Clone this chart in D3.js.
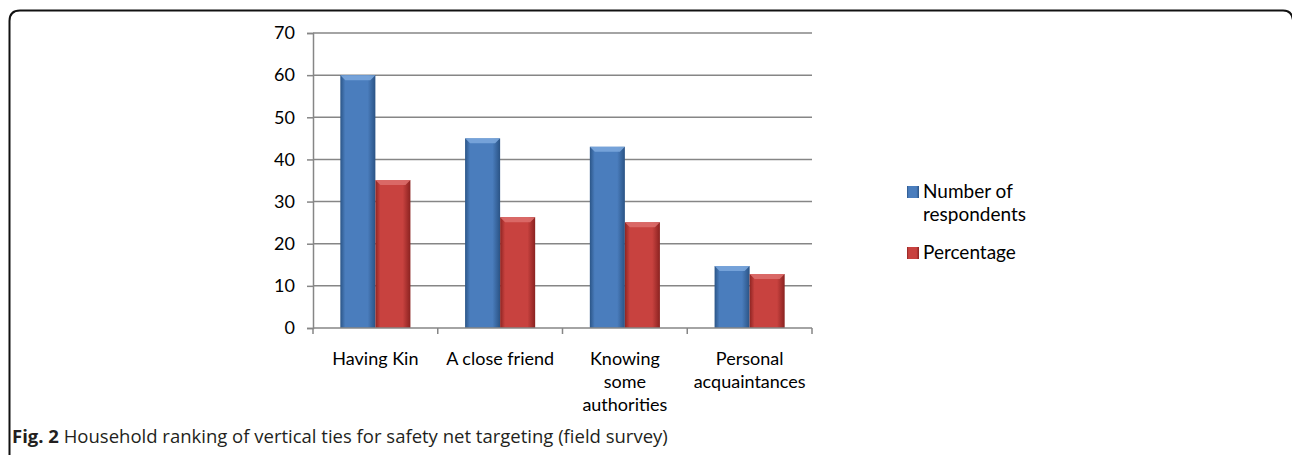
<!DOCTYPE html>
<html>
<head>
<meta charset="utf-8">
<script src="https://cdn.jsdelivr.net/npm/d3@7"></script>
<style>
  body { margin: 0; background: #fff; }
  svg { display: block; }
</style>
</head>
<body>
<svg class="chart"></svg>
<script>
const categories = ['Having Kin', 'A close friend', 'Knowing some authorities', 'Personal acquaintances'];
const categoryLines = [['Having Kin'], ['A close friend'], ['Knowing', 'some', 'authorities'], ['Personal', 'acquaintances']];
const seriesNames = ['Number of respondents', 'Percentage'];
const respondents = [60, 45, 43, 14.7];
const percentage = [35.1, 26.3, 25.1, 12.8];
const yTicks = [0, 10, 20, 30, 40, 50, 60, 70];

const svg = d3.select('.chart')
	.attr('width', 1292)
	.attr('height', 455);

const font = 'Lato, "Open Sans", sans-serif';

// frame
svg.append('path')
	.attr('d', 'M9.5,455 V21 Q9.5,10.5 20,10.5 H1283 Q1292,10.5 1293,20')
	.attr('fill', 'none')
	.attr('stroke', '#111')
	.attr('stroke-width', 2);

const xScale = d3.scaleBand()
	.domain(categories)
	.range([313, 812]);

const x1 = d3.scaleBand()
	.domain(seriesNames)
	.range([0, xScale.bandwidth()])
	.paddingOuter(0.78);

const yScale = d3.scaleLinear()
	.domain([0, 70])
	.range([328, 33]);

const colors = { 'Number of respondents': ['#2b5587', '#4a7dbd', '#2a5385'], 'Percentage': ['#8e2422', '#c8423f', '#8a2220'] };

const defs = svg.append('defs');
seriesNames.forEach((s, i) => {
	const gr = defs.append('linearGradient')
		.attr('id', 'grad' + i)
		.attr('x1', 0).attr('x2', 1).attr('y1', 0).attr('y2', 0);
	gr.append('stop').attr('offset', '0%').attr('stop-color', colors[s][0]);
	gr.append('stop').attr('offset', '14%').attr('stop-color', colors[s][1]);
	gr.append('stop').attr('offset', '78%').attr('stop-color', colors[s][1]);
	gr.append('stop').attr('offset', '100%').attr('stop-color', colors[s][2]);
});

// gridlines + y axis
const yAxis = d3.axisLeft(yScale)
	.tickValues(yTicks)
	.tickSize(6)
	.tickPadding(12);

const yAxisG = svg.append('g')
	.attr('transform', 'translate(313,0)')
	.call(yAxis);
yAxisG.select('.domain').attr('stroke', '#868686').attr('stroke-width', 1.5);
yAxisG.selectAll('.tick line').attr('stroke', '#868686').attr('stroke-width', 1.5);
yAxisG.selectAll('.tick text')
	.attr('font-family', font)
	.attr('font-size', 18)
	.attr('fill', '#000');

svg.append('g').selectAll('line')
	.data(yTicks.filter(d => d > 0))
	.enter()
	.append('line')
		.attr('x1', 313)
		.attr('x2', 812)
		.attr('y1', d => yScale(d))
		.attr('y2', d => yScale(d))
		.attr('stroke', '#868686')
		.attr('stroke-width', 1.5);

// bars
const rows = categories.map((c, i) => ({ cat: c, values: [respondents[i], percentage[i]] }));
const groups = svg.append('g').selectAll('g')
	.data(rows)
	.enter()
	.append('g')
		.attr('transform', d => `translate(${xScale(d.cat)},0)`);

const bars = groups.selectAll('g')
	.data(d => d.values.map((v, i) => ({ s: seriesNames[i], v, i })))
	.enter()
	.append('g');

bars.append('rect')
	.attr('x', d => x1(d.s))
	.attr('y', d => yScale(d.v))
	.attr('width', x1.bandwidth())
	.attr('height', d => yScale(0) - yScale(d.v))
	.attr('fill', d => `url(#grad${d.i})`);

// bevelled top
bars.append('path')
	.attr('d', d => {
		const x0 = x1(d.s), w = x1.bandwidth(), y0 = yScale(d.v);
		return `M${x0},${y0} H${x0 + w} L${x0 + w - 5},${y0 + 5} H${x0 + 5} Z`;
	})
	.attr('fill', d => d.i === 0 ? '#7aa6dc' : '#dc6d6a')
	.attr('opacity', 0.9);

// x axis
const xAxisG = svg.append('g')
	.attr('transform', 'translate(0,328)');
xAxisG.append('line')
	.attr('x1', 313).attr('x2', 812)
	.attr('stroke', '#868686').attr('stroke-width', 1.5);
xAxisG.selectAll('.xtick')
	.data(categories.concat(['end']))
	.enter()
	.append('line')
		.attr('x1', (d, i) => i < categories.length ? xScale(d) : xScale.range()[1])
		.attr('x2', (d, i) => i < categories.length ? xScale(d) : xScale.range()[1])
		.attr('y1', 0)
		.attr('y2', 6)
		.attr('stroke', '#868686').attr('stroke-width', 1.5);

const labels = xAxisG.selectAll('.xlabel')
	.data(categories)
	.enter()
	.append('text')
		.attr('text-anchor', 'middle')
		.attr('font-family', font)
		.attr('font-size', 18)
		.attr('fill', '#000');
labels.selectAll('tspan')
	.data((d, i) => categoryLines[i].map(t => ({ t, x: xScale(d) + xScale.bandwidth() / 2 })))
	.enter()
	.append('tspan')
		.attr('x', d => d.x)
		.attr('y', (d, i) => 37 + i * 23)
		.text(d => d.t);

// legend
const legendItems = [
	{ i: 0, lines: ['Number of', 'respondents'], y: 198 },
	{ i: 1, lines: ['Percentage'], y: 259 }
];
const lg = svg.append('g').selectAll('g')
	.data(legendItems)
	.enter()
	.append('g');
lg.append('rect')
	.attr('x', 907)
	.attr('y', d => d.y - 12)
	.attr('width', 12)
	.attr('height', 12)
	.attr('fill', d => `url(#grad${d.i})`);
lg.append('text')
	.attr('font-family', font)
	.attr('font-size', 19)
	.attr('fill', '#000')
	.selectAll('tspan')
	.data(d => d.lines.map((t, k) => ({ t, y: d.y + k * 23 })))
	.enter()
	.append('tspan')
		.attr('x', 923)
		.attr('y', d => d.y)
		.text(d => d.t);

// caption
const cap = svg.append('text')
	.attr('x', 12)
	.attr('y', 443)
	.attr('font-family', '"Open Sans", sans-serif')
	.attr('font-size', 18.5)
	.attr('fill', '#231f20');
cap.append('tspan').attr('font-weight', 'bold').text('Fig. 2');
cap.append('tspan').text(' Household ranking of vertical ties for safety net targeting (field survey)');
</script>
</body>
</html>
